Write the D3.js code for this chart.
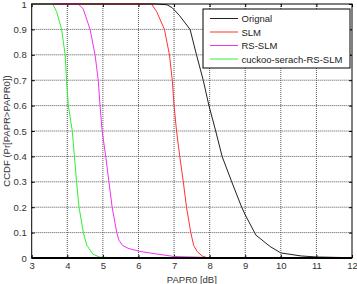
<!DOCTYPE html>
<html>
<head>
<meta charset="utf-8">
<script src="https://cdn.jsdelivr.net/npm/d3@7"></script>
<style>
  body { margin: 0; background: #fff; }
  svg { display: block; font-family: "Liberation Sans", Arial, sans-serif; }
</style>
</head>
<body>
<svg id="chart" width="357" height="284"></svg>
<script>
// series names as in the legend
const seriesNames = ["Orignal", "SLM", "RS-SLM", "cuckoo-serach-RS-SLM"];
const seriesColors = ["#222222", "#ff3333", "#ee33ee", "#33ee33"];

// PAPR0 [dB] and CCDF values
const origX = [3, 6.5, 6.8, 6.95, 7.15, 7.45, 7.63, 7.82, 7.98, 8.17, 8.35, 8.62, 8.9, 9.0, 9.3, 9.7, 10.0, 10.57, 11.0, 12];
const origY = [1, 1, 0.997, 0.985, 0.955, 0.9, 0.8, 0.7, 0.6, 0.5, 0.4, 0.3, 0.2, 0.17, 0.09, 0.045, 0.02, 0.008, 0.004, 0.001];

const slmX = [3, 6.37, 6.51, 6.73, 6.87, 6.95, 7.0, 7.07, 7.16, 7.26, 7.35, 7.47, 7.55, 7.65, 7.8, 7.95];
const slmY = [1, 1, 0.97, 0.9, 0.8, 0.7, 0.6, 0.5, 0.4, 0.3, 0.2, 0.1, 0.05, 0.025, 0.007, 0];

const rsX = [3, 4.31, 4.45, 4.64, 4.78, 4.87, 4.92, 4.98, 5.08, 5.17, 5.26, 5.39, 5.45, 5.55, 5.71, 6.04, 6.5, 7.0, 8.4];
const rsY = [1, 1, 0.98, 0.9, 0.8, 0.7, 0.6, 0.5, 0.4, 0.3, 0.2, 0.1, 0.07, 0.05, 0.038, 0.026, 0.016, 0.006, 0];

const csX = [3, 3.59, 3.7, 3.84, 3.94, 3.98, 4.03, 4.14, 4.2, 4.26, 4.33, 4.45, 4.55, 4.72, 4.92, 5.5, 7];
const csY = [1, 1, 0.97, 0.9, 0.8, 0.7, 0.6, 0.5, 0.4, 0.3, 0.2, 0.1, 0.05, 0.015, 0.003, 0.001, 0];

const xTicks = [3, 4, 5, 6, 7, 8, 9, 10, 11, 12];
const yTicks = [0, 0.1, 0.2, 0.3, 0.4, 0.5, 0.6, 0.7, 0.8, 0.9, 1];

const svg = d3.select("#chart");
const plotLeft = 31.7, plotRight = 352, plotTop = 4, plotBottom = 258;

const x = d3.scaleLinear().domain([3, 12]).range([plotLeft, plotRight]);
const y = d3.scaleLinear().domain([0, 1]).range([plotBottom, plotTop]);

// grid
const grid = svg.append("g");
grid.selectAll("line.gx")
    .data(xTicks.slice(1, -1))
    .enter()
    .append("line")
    .attr("x1", (d) => x(d)).attr("x2", (d) => x(d))
    .attr("y1", plotTop).attr("y2", plotBottom)
    .attr("stroke", "#555").attr("stroke-width", 1)
    .attr("stroke-dasharray", "1,1");
grid.selectAll("line.gy")
    .data(yTicks.slice(1, -1))
    .enter()
    .append("line")
    .attr("y1", (d) => y(d)).attr("y2", (d) => y(d))
    .attr("x1", plotLeft).attr("x2", plotRight)
    .attr("stroke", "#555").attr("stroke-width", 1)
    .attr("stroke-dasharray", "1,1");

// axes (ticks inside, MATLAB box style)
const axisFont = (g) => {
    g.select(".domain").remove();
    g.selectAll("text").attr("font-size", "9.5px").attr("fill", "#333")
        .attr("font-family", "Liberation Sans, Arial, sans-serif");
    g.selectAll(".tick line").attr("stroke", "#000");
};

svg.append("g")
    .attr("transform", `translate(0,${plotBottom})`)
    .call(d3.axisBottom(x).tickValues(xTicks).tickSize(-3).tickPadding(4.5).tickFormat(d3.format("d")))
    .call(axisFont);
svg.append("g")
    .attr("transform", `translate(0,${plotTop})`)
    .call(d3.axisTop(x).tickValues(xTicks).tickSize(-3).tickFormat(""))
    .call(axisFont);
svg.append("g")
    .attr("transform", `translate(${plotLeft},0)`)
    .call(d3.axisLeft(y).tickValues(yTicks).tickSize(-3).tickPadding(5).tickFormat((d) => d === 0 || d === 1 ? d3.format("d")(d) : d3.format(".1f")(d)))
    .call(axisFont);
svg.append("g")
    .attr("transform", `translate(${plotRight},0)`)
    .call(d3.axisRight(y).tickValues(yTicks).tickSize(-3).tickFormat(""))
    .call(axisFont);

// curves
const seriesData = [
    d3.zip(origX, origY),
    d3.zip(slmX, slmY),
    d3.zip(rsX, rsY),
    d3.zip(csX, csY),
];
const line = d3.line().x((d) => x(d[0])).y((d) => y(d[1]));

svg.append("g")
    .selectAll("path")
    .data(seriesData)
    .enter()
    .append("path")
    .attr("d", line)
    .attr("fill", "none")
    .attr("stroke", (d, i) => seriesColors[i])
    .attr("stroke-width", 1);

// box
svg.append("rect")
    .attr("x", plotLeft).attr("y", plotTop)
    .attr("width", plotRight - plotLeft).attr("height", plotBottom - plotTop)
    .attr("fill", "none").attr("stroke", "#000").attr("stroke-width", 1);
svg.append("line")
    .attr("x1", plotLeft).attr("x2", plotRight)
    .attr("y1", plotBottom).attr("y2", plotBottom)
    .attr("stroke", "#000").attr("stroke-width", 2);

// axis labels
svg.append("text")
    .attr("x", (plotLeft + plotRight) / 2).attr("y", 282.5)
    .attr("text-anchor", "middle")
    .attr("font-size", "9.5px").attr("fill", "#333")
    .text("PAPR0 [dB]");
svg.append("text")
    .attr("transform", `translate(10,${(plotTop + plotBottom) / 2}) rotate(-90)`)
    .attr("text-anchor", "middle")
    .attr("font-size", "9.5px").attr("fill", "#333")
    .text("CCDF (Pr[PAPR>PAPR0])");

// legend
const legend = svg.append("g").attr("transform", "translate(203,9)");
legend.append("rect")
    .attr("width", 147).attr("height", 59)
    .attr("fill", "#fff").attr("stroke", "#000").attr("stroke-width", 1);
const items = legend.selectAll("g.item")
    .data(seriesNames)
    .enter()
    .append("g")
    .attr("transform", (d, i) => `translate(0,${9.5 + i * 13.5})`);
items.append("line")
    .attr("x1", 7).attr("x2", 35)
    .attr("stroke", (d, i) => seriesColors[i]).attr("stroke-width", 1);
items.append("text")
    .attr("x", 38.5).attr("y", 3.5)
    .attr("font-size", "9.5px").attr("fill", "#222")
    .text((d) => d);
</script>
</body>
</html>
